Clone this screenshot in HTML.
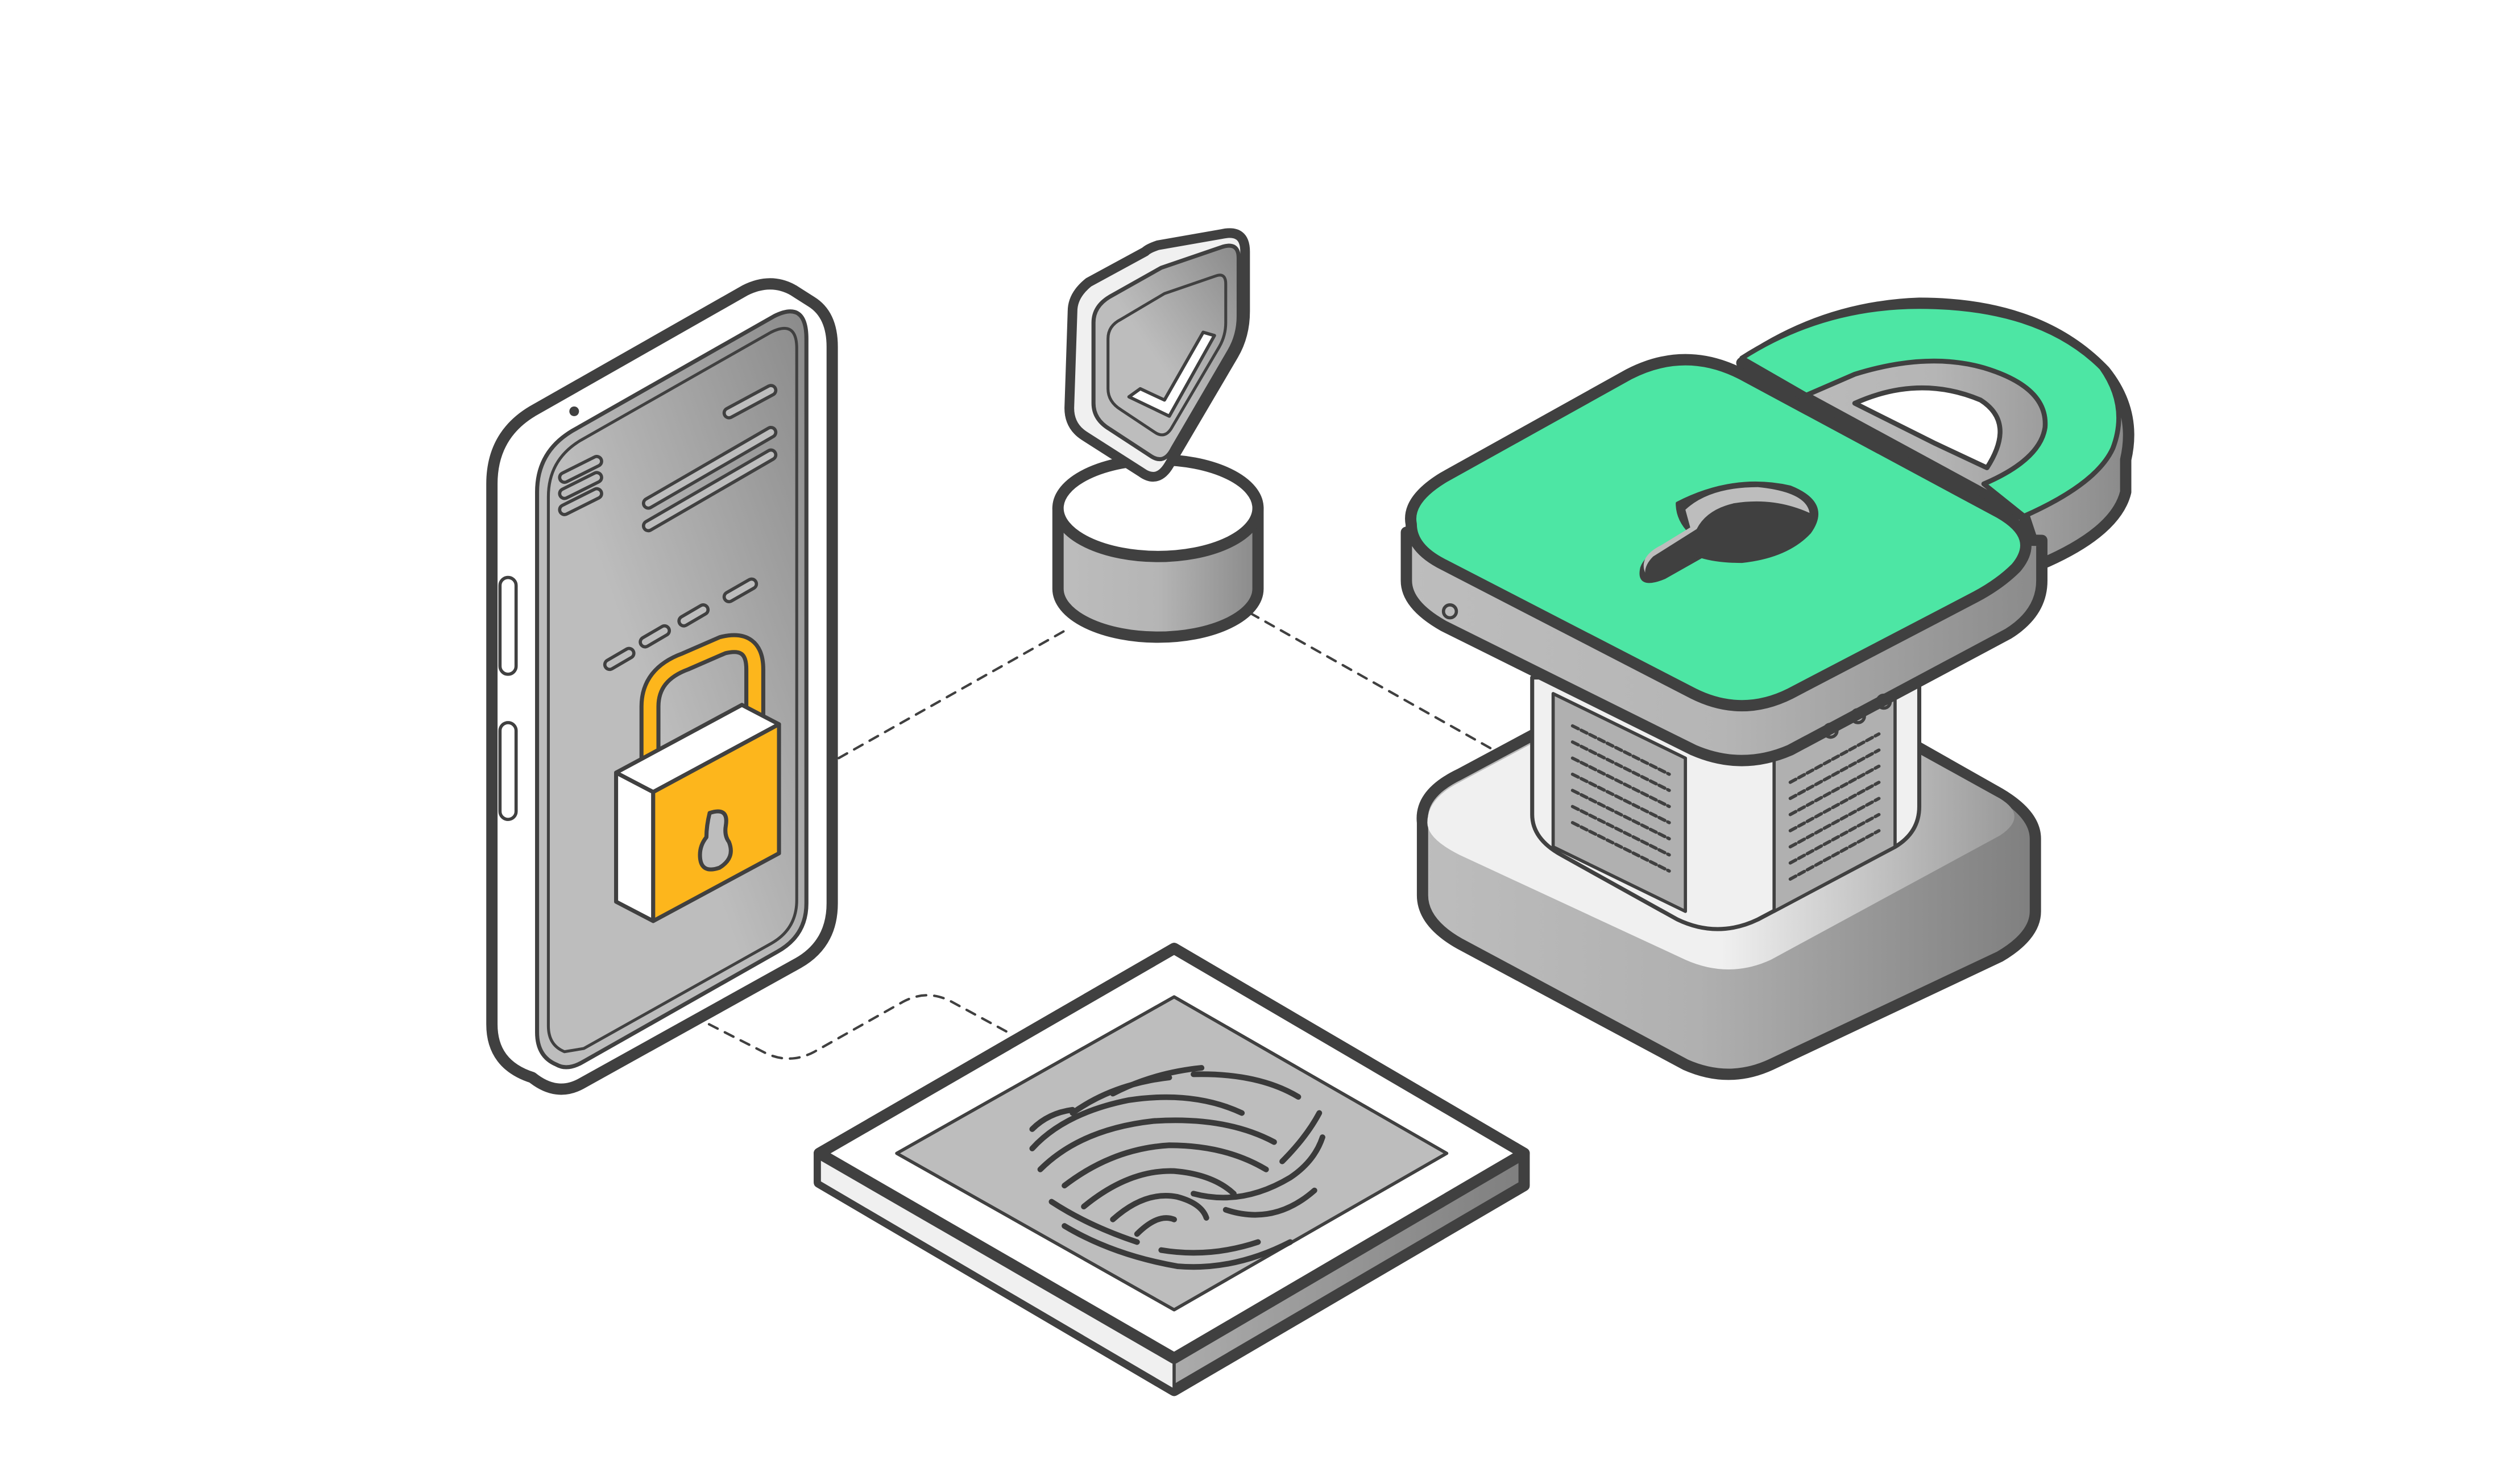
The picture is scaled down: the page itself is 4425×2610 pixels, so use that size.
<!DOCTYPE html>
<html><head><meta charset="utf-8">
<style>html,body{margin:0;padding:0;background:#fff;}svg{display:block}</style></head>
<body>
<svg width="4425" height="2610" viewBox="0 0 1560 920" preserveAspectRatio="none" xmlns="http://www.w3.org/2000/svg">
<defs>
<linearGradient id="gph" x1="1" y1="0" x2="0" y2="1"><stop offset="0" stop-color="#8a8a8a"/><stop offset="0.55" stop-color="#bdbdbd"/><stop offset="1" stop-color="#bdbdbd"/></linearGradient>
<linearGradient id="gside" x1="0" y1="0" x2="1" y2="0"><stop offset="0" stop-color="#bdbdbd"/><stop offset="0.5" stop-color="#b5b5b5"/><stop offset="1" stop-color="#8a8a8a"/></linearGradient>
<linearGradient id="gbase" x1="0" y1="0" x2="1" y2="0"><stop offset="0" stop-color="#bdbdbd"/><stop offset="0.45" stop-color="#b0b0b0"/><stop offset="1" stop-color="#7f7f7f"/></linearGradient>
<linearGradient id="gbtop" x1="0" y1="0" x2="1" y2="0"><stop offset="0.5" stop-color="#f0f0f0"/><stop offset="1" stop-color="#999"/></linearGradient>
</defs>
<g fill="none" stroke="#404040" stroke-linecap="round" stroke-linejoin="round">
<g stroke-width="1.5" stroke-dasharray="6 5">
<path d="M520 470 L662 390"/>
<path d="M775 380 L928 466"/>
<path d="M420 625 L475 653 Q490 660 505 652 L560 621 Q575 613 590 621 L625 640"/>
</g>

<!-- PHONE -->
<path d="M330 668 Q305 660 305 635 L305 300 Q305 270 330 255 L462 180 Q478 172 492 180 L503 187 Q516 195 516 215 L516 560 Q516 585 495 597 L360 672 Q345 680 330 668 Z" fill="#fff" stroke-width="7"/>
<path d="M345 660 Q333 655 333 640 L333 305 Q333 280 355 267 L480 196 Q500 186 500 210 L500 560 Q500 580 482 590 L362 658 Q352 664 345 660 Z" fill="url(#gph)" stroke-width="2.5"/>
<path d="M350 652 Q340 648 340 636 L340 308 Q340 285 360 273 L478 206 Q494 198 494 216 L494 558 Q494 576 478 585 L362 650 Z" fill="none" stroke-width="1.8"/>
<rect x="310" y="358" width="10" height="60" rx="5" fill="#fff" stroke-width="2"/>
<rect x="310" y="448" width="10" height="60" rx="5" fill="#fff" stroke-width="2"/>
<circle cx="356" cy="255" r="3" fill="#404040" stroke="none"/>
<g stroke-width="8" stroke="#404040"><path d="M350 296 L370 286 M350 306 L370 296 M350 316 L370 306 M402 312 L478 268 M402 326 L478 282 M452 256 L478 242 M378 412 L390 405 M400 398 L412 391 M424 385 L436 378 M452 370 L466 362"/></g>
<g stroke-width="4" stroke="#bdbdbd"><path d="M350 296 L370 286 M350 306 L370 296 M350 316 L370 306 M402 312 L478 268 M402 326 L478 282 M452 256 L478 242 M378 412 L390 405 M400 398 L412 391 M424 385 L436 378 M452 370 L466 362"/></g>
<path d="M403 472 L403 438 Q403 418 425 410 L448 400 Q468 395 468 415 L468 452" stroke="#404040" stroke-width="13"/>
<path d="M403 472 L403 438 Q403 418 425 410 L448 400 Q468 395 468 415 L468 452" stroke="#fdb61c" stroke-width="8"/>
<path d="M382 479 L405 491 L405 571 L382 559 Z" fill="#fff" stroke-width="2.5"/>
<path d="M382 479 L460 437 L483 449 L405 491 Z" fill="#fff" stroke-width="2.5"/>
<path d="M405 491 L483 449 L483 529 L405 571 Z" fill="#fdb61c" stroke-width="2.5"/>
<path d="M440 504 Q452 500 450 512 Q449 518 452 522 Q456 532 446 538 Q434 542 434 530 Q434 524 438 519 Q438 512 440 504 Z" fill="#bdbdbd" stroke-width="2.5"/>

<!-- SHIELD + CYLINDER -->
<path d="M656 315 L656 365 A62 30 0 0 0 780 365 L780 315" fill="url(#gside)" stroke-width="7"/>
<ellipse cx="718" cy="315" rx="62" ry="30" fill="#fff" stroke-width="7"/>
<g transform="translate(0,8)">
<path d="M665 185 Q665 175 675 167 L710 148 Q712 146 718 144 L758 137 Q772 134 772 148 L772 185 Q772 200 765 212 L725 280 Q718 292 708 285 L672 262 Q663 256 663 245 Z" fill="#f0f0f0" stroke-width="6"/>
<path d="M678 192 Q678 182 688 176 L720 158 L758 145 Q768 142 768 152 L768 188 Q768 200 762 210 L727 270 Q722 280 714 275 L688 258 Q678 252 678 242 Z" fill="url(#gph)" stroke-width="2.5"/>
<path d="M687 202 Q687 194 695 190 L722 174 L754 163 Q760 161 760 168 L760 192 Q760 200 756 207 L726 258 Q722 264 716 260 L695 246 Q687 241 687 233 Z" fill="none" stroke-width="1.8"/>
<path d="M700 238 L707 233 L722 240 L746 198 L753 200 L725 250 Z" fill="#fff" stroke-width="2"/>
</g>

<!-- FINGERPRINT PAD -->
<path d="M508 715 L508 733 L728 862 L945 735 L945 715 L728 588 Z" fill="url(#gbase)" stroke-width="7"/>
<path d="M508 715 L508 733 L728 862 L728 842 Z" fill="#f0f0f0" stroke-width="2"/>
<path d="M508 715 L728 588 L945 715 L728 842 Z" fill="#fff" stroke-width="7"/>
<path d="M556 715 L728 618 L897 715 L728 812 Z" fill="#bdbdbd" stroke-width="2"/>
<g stroke-width="3.5" stroke="#3a3a3a">
<path d="M640 712 Q660 690 700 682 Q740 676 770 690"/>
<path d="M645 725 Q670 700 715 695 Q760 692 790 708"/>
<path d="M660 735 Q690 712 725 710 Q760 710 785 725"/>
<path d="M672 748 Q700 725 728 726 Q752 728 765 740"/>
<path d="M690 756 Q710 738 730 742 Q745 746 748 755"/>
<path d="M705 765 Q718 752 728 756"/>
<path d="M652 745 Q675 760 705 770 M720 775 Q750 780 780 770"/>
<path d="M660 760 Q690 778 730 785 Q765 788 800 770"/>
<path d="M740 740 Q770 748 800 730 Q815 720 820 705"/>
<path d="M665 690 Q690 672 725 668 M740 666 Q780 665 805 680"/>
<path d="M690 678 Q715 665 745 662"/>
<path d="M760 750 Q790 760 815 738 M795 720 Q810 705 818 690"/>
<path d="M640 700 Q650 690 665 688"/>
</g>

<!-- BIG LOCK base -->
<path d="M882 510 Q880 492 905 480 L1045 405 Q1068 395 1090 407 L1240 492 Q1262 505 1262 520 L1262 565 Q1262 580 1240 593 L1098 660 Q1072 672 1045 660 L905 585 Q882 572 882 555 Z" fill="url(#gbase)" stroke-width="7"/>
<path d="M885 510 Q885 495 905 485 L1045 410 Q1068 400 1090 412 L1240 495 Q1258 506 1240 518 L1098 595 Q1072 607 1045 595 L905 530 Q885 520 885 510 Z" fill="url(#gbtop)" stroke="none"/>
<path d="M950 420 L950 505 Q950 520 968 530 L1040 570 Q1065 582 1090 570 L1175 525 Q1190 516 1190 500 L1190 420 Z" fill="#f0f0f0" stroke-width="2.5"/>
<path d="M963 430 L1045 470 L1045 565 L963 525 Z" fill="#b0b0b0" stroke-width="2"/>
<path d="M1100 470 L1175 430 L1175 525 L1100 565 Z" fill="#b0b0b0" stroke-width="2"/>
<g stroke-width="2" stroke-dasharray="4 2"><path d="M975 450 L1035 480 M975 460 L1035 490 M975 470 L1035 500 M975 480 L1035 510 M975 490 L1035 520 M975 500 L1035 530 M975 510 L1035 540 M1110 485 L1165 455 M1110 495 L1165 465 M1110 505 L1165 475 M1110 515 L1165 485 M1110 525 L1165 495 M1110 535 L1165 505 M1110 545 L1165 515"/></g>
<path d="M1080 225 Q1130 190 1190 188 Q1265 188 1305 230 Q1325 255 1318 285 L1318 305 Q1312 330 1265 350 L1255 320 Z" fill="url(#gside)" stroke-width="7"/>
<path d="M1080 222 Q1130 190 1190 190 Q1265 190 1303 228 Q1320 252 1310 278 Q1300 300 1255 320 L1230 300 Q1265 285 1268 265 Q1270 240 1230 228 Q1195 218 1150 232 L1120 245 Z" fill="#4de6a4" stroke-width="3"/>
<path d="M1150 250 Q1190 232 1228 248 Q1250 262 1232 290 L1200 275 Z" fill="#fff" stroke-width="3"/>
<path d="M872 330 L872 360 Q872 375 895 388 L1050 465 Q1080 478 1110 465 L1245 393 Q1266 380 1266 360 L1266 335 Z" fill="url(#gside)" stroke-width="7"/>
<path d="M875 325 Q872 310 895 296 L1010 232 Q1045 214 1080 232 L1240 318 Q1266 333 1250 352 Q1240 362 1225 370 L1110 430 Q1080 445 1050 430 L895 350 Q875 340 875 325 Z" fill="#4de6a4" stroke-width="7"/>
<path d="M1040 312 Q1075 294 1110 302 Q1135 312 1122 330 Q1108 345 1080 348 Q1065 348 1055 345 L1032 358 Q1015 365 1018 352 Q1020 346 1030 340 L1048 330 Q1040 322 1040 312 Z" fill="#404040" stroke-width="2"/>
<path d="M1045 316 Q1060 302 1090 302 Q1120 305 1122 318 Q1100 308 1075 312 Q1058 316 1052 328 L1025 345 Q1020 350 1020 355 Q1016 345 1030 338 L1048 327 Z" fill="#bdbdbd" stroke="none"/>
<circle cx="899" cy="379" r="4" fill="none" stroke-width="2"/>
<circle cx="1135" cy="453" r="4" stroke-width="2"/><circle cx="1152" cy="444" r="4" stroke-width="2"/><circle cx="1168" cy="435" r="4" stroke-width="2"/>
</g>
</svg>
</body></html>
